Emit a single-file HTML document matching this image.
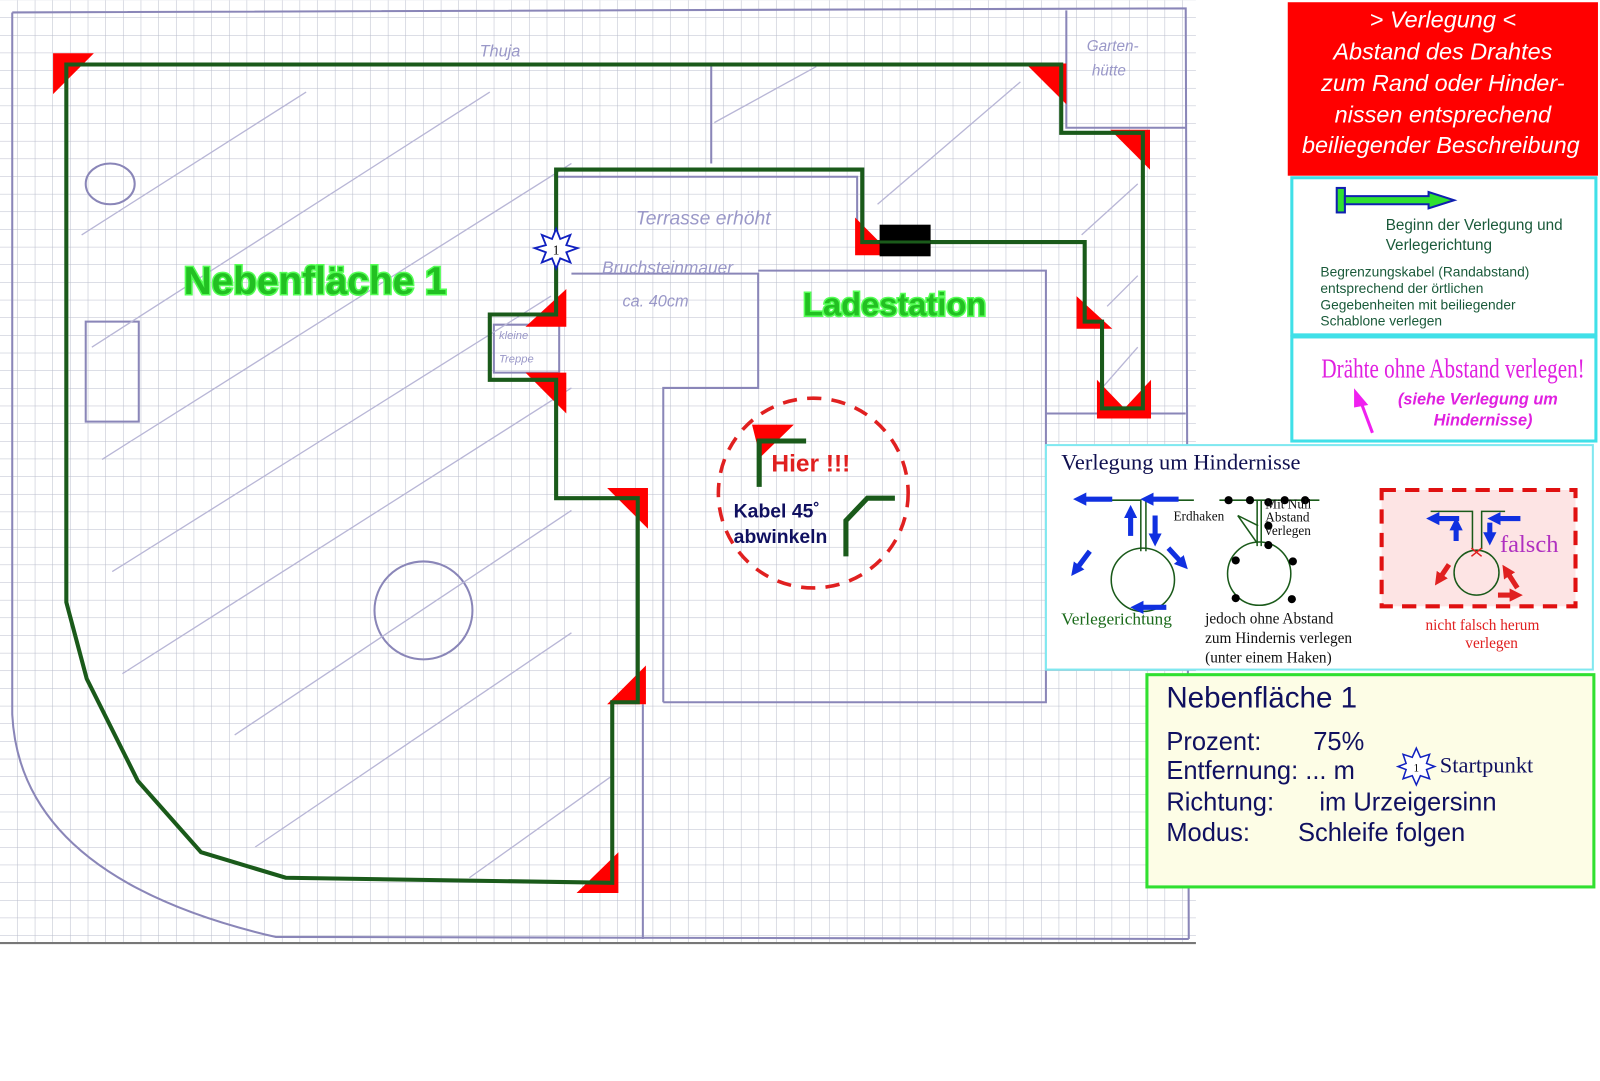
<!DOCTYPE html>
<html><head><meta charset="utf-8"><style>
html,body{margin:0;padding:0;background:#fff;width:1600px;height:1081px;overflow:hidden}
svg{display:block}
text{font-family:"Liberation Sans","DejaVu Sans",sans-serif}
.ser{font-family:"Liberation Serif",serif}
</style></head><body>
<svg width="1600" height="1081" viewBox="0 0 1568 1059" xmlns="http://www.w3.org/2000/svg">
<defs>
<pattern id="g" width="17.3" height="17.3" patternUnits="userSpaceOnUse">
<path d="M17.3 0V17.3H0" fill="none" stroke="#b9bccb" stroke-width="1"/>
</pattern>
<marker id="ab" viewBox="0 0 10 10" refX="2" refY="5" markerWidth="2.6" markerHeight="2.6" orient="auto"><path d="M0 0L10 5L0 10Z" fill="#1030e0"/></marker>
<marker id="ar" viewBox="0 0 10 10" refX="2" refY="5" markerWidth="2.6" markerHeight="2.6" orient="auto"><path d="M0 0L10 5L0 10Z" fill="#e02020"/></marker>
</defs>
<rect x="0" y="0" width="1172" height="925" fill="#fff"/>
<rect x="0" y="0" width="1172" height="925" fill="url(#g)"/>
<line x1="0" y1="924" x2="1172" y2="924" stroke="#777" stroke-width="2"/>
<g fill="none" stroke="#8a86b8" stroke-width="2">
<path d="M12 12 L12 700 Q20 860 270 918 L1165 920"/>
<path d="M12 12 L1162 8 L1165 920"/>
<path d="M1045 10 V125 H1162"/>
<path d="M1025 405 H1162"/>
<path d="M545 173 H840 V238"/>
<path d="M560 268 H743 V380 H650 V688"/>
<path d="M743 265 H1025 V688 H650"/>
<path d="M630 690 V920"/>
<path d="M484 318 H548 V365 H484 Z"/>
<path d="M697 65 V160"/>
<ellipse cx="108" cy="180" rx="24" ry="20"/>
<rect x="84" y="315" width="52" height="98"/>
<circle cx="415" cy="598" r="48"/>
<path d="M1080 320 V400"/>
</g>
<g stroke="#b8b6d6" stroke-width="1.3">
<line x1="80" y1="230" x2="300" y2="90"/><line x1="90" y1="340" x2="480" y2="90"/>
<line x1="100" y1="450" x2="560" y2="160"/><line x1="110" y1="560" x2="540" y2="290"/>
<line x1="120" y1="660" x2="560" y2="380"/><line x1="230" y1="720" x2="560" y2="500"/>
<line x1="250" y1="830" x2="560" y2="620"/><line x1="460" y1="860" x2="600" y2="760"/>
<line x1="700" y1="120" x2="800" y2="65"/><line x1="860" y1="200" x2="1000" y2="80"/>
<line x1="1080" y1="380" x2="1115" y2="340"/><line x1="1085" y1="300" x2="1115" y2="270"/>
<line x1="1060" y1="230" x2="1115" y2="180"/>
</g>
<g fill="#9a98c8" font-style="italic" font-size="16">
<text x="470" y="55">Thuja</text>
<text x="1065" y="50" font-size="15">Garten-</text><text x="1070" y="74" font-size="15">hütte</text>
<text x="623" y="220" font-size="19">Terrasse erhöht</text>
<text x="590" y="268" font-size="17">Bruchsteinmauer</text>
<text x="610" y="300" font-size="16">ca. 40cm</text>
<text x="489" y="332" font-size="11">kleine</text><text x="489" y="355" font-size="11">Treppe</text>
</g>
<g fill="#f00">
<path d="M52 52 H92 L52 92Z"/>
<path d="M1005 62 H1045 V102Z"/>
<path d="M1088 127 H1127 V166Z"/>
<path d="M838 213 V250 H875Z"/>
<path d="M1055 290 V322 H1090Z"/>
<path d="M1075 372 V410 H1128 V372 L1102 400Z"/>
<path d="M555 283 V320 H515Z"/>
<path d="M515 365 H555 V405Z"/>
<path d="M595 478 H635 V518Z"/>
<path d="M595 690 H633 V652Z"/>
<path d="M565 875 H606 V835Z"/>
<path d="M737 416 H778 L745 448Z"/>
</g>
<path d="M65 63 H1040 V130 H1120 V400 H1080 V315 H1063 V237 H845 V166 H545 V308 H480 V372 H545 V488 H625 V688 H600 V865 L280 860 L197 835 L135 765 L85 665 L65 590 Z" fill="none" stroke="#1a5a1a" stroke-width="4"/>
<rect x="862" y="220" width="50" height="31" fill="#000"/>
<line x1="862" y1="237" x2="912" y2="237" stroke="#1a5a1a" stroke-width="3"/>
<polygon points="545,224 549,234 559,230 555,240 566,243 555,247 559,257 549,253 545,263 541,253 531,257 535,247 524,243 535,240 531,230 541,234" fill="#fff" stroke="#1020c0" stroke-width="1.8"/>
<text x="545" y="249" font-size="13" text-anchor="middle" class="ser">1</text>
<text x="180" y="288" font-size="38" font-weight="bold" fill="#22c022" stroke="#55ff55" stroke-width="3" paint-order="stroke">Nebenfläche 1</text>
<text x="787" y="309" font-size="32" font-weight="bold" fill="#22c022" stroke="#55ff55" stroke-width="3" paint-order="stroke">Ladestation</text>
<circle cx="797" cy="483" r="93" fill="none" stroke="#e02020" stroke-width="3.5" stroke-dasharray="14,10"/>
<path d="M744 477 V432 H790" fill="none" stroke="#1a5a1a" stroke-width="5"/>
<path d="M829 545 V510 L850 488 H877" fill="none" stroke="#1a5a1a" stroke-width="5"/>
<text x="756" y="462" font-size="24" font-weight="bold" fill="#e02020">Hier !!!</text>
<text x="719" y="507" font-size="19" font-weight="bold" fill="#101060">Kabel 45˚</text>
<text x="719" y="532" font-size="19" font-weight="bold" fill="#101060">abwinkeln</text>
<rect x="1262" y="2" width="304" height="170" fill="#f00"/>
<g fill="#fff" font-size="23" font-style="italic" text-anchor="middle">
<text x="1414" y="27">&gt; Verlegung &lt;</text>
<text x="1414" y="58">Abstand des Drahtes</text>
<text x="1414" y="89">zum Rand oder Hinder-</text>
<text x="1414" y="120">nissen entsprechend</text>
<text x="1412" y="150">beiliegender Beschreibung</text>
</g>
<rect x="1266" y="174" width="298" height="154" fill="#fff" stroke="#40e0e8" stroke-width="3"/>
<rect x="1310" y="184" width="8" height="24" fill="#30e030" stroke="#1020b0" stroke-width="2"/>
<path d="M1318 192 H1400 V188 L1425 196 L1400 204 V200 H1318Z" fill="#30e030" stroke="#1020b0" stroke-width="2"/>
<g fill="#1a5a3a" font-size="15">
<text x="1358" y="225">Beginn der Verlegung und</text>
<text x="1358" y="245">Verlegerichtung</text>
<text x="1294" y="271" font-size="13.5">Begrenzungskabel (Randabstand)</text>
<text x="1294" y="287" font-size="13.5">entsprechend der örtlichen</text>
<text x="1294" y="303" font-size="13.5">Gegebenheiten mit beiliegender</text>
<text x="1294" y="319" font-size="13.5">Schablone verlegen</text>
</g>
<rect x="1266" y="330" width="298" height="102" fill="#fff" stroke="#40e0e8" stroke-width="3"/>
<text x="1295" y="370" font-size="27" fill="#e020e0" class="ser" textLength="258" lengthAdjust="spacingAndGlyphs">Drähte ohne Abstand verlegen!</text>
<text x="1370" y="396" font-size="16" font-style="italic" font-weight="bold" fill="#e020e0">(siehe Verlegung um</text>
<text x="1405" y="417" font-size="16" font-style="italic" font-weight="bold" fill="#e020e0">Hindernisse)</text>
<path d="M1345 424 L1333 392" stroke="#f020f0" stroke-width="3"/><path d="M1328 383 L1339 396 L1328 398Z" fill="#f020f0" stroke="#f020f0" stroke-width="2"/>
<rect x="1025" y="436" width="536" height="220" fill="#fff" stroke="#80e8f0" stroke-width="2"/>
<text x="1040" y="460" font-size="22" class="ser" fill="#101050">Verlegung um Hindernisse</text>
<g fill="none" stroke="#1a5a1a" stroke-width="1.5">
<path d="M1070 490 H1118 V540 M1123 540 V490 H1170"/>
<circle cx="1120" cy="568" r="31"/>
<path d="M1195 490 H1293 M1232 490 V535 M1236 490 V535"/>
<circle cx="1234" cy="562" r="31"/>
<path d="M1213 505 L1233 515 M1213 505 L1232 532"/>
</g>
<g fill="#000"><circle cx="1204" cy="490" r="4"/><circle cx="1225" cy="490" r="4"/><circle cx="1243" cy="492" r="4"/><circle cx="1259" cy="490" r="4"/><circle cx="1279" cy="490" r="4"/><circle cx="1243" cy="515" r="4"/><circle cx="1243" cy="534" r="4"/><circle cx="1211" cy="549" r="4"/><circle cx="1267" cy="550" r="4"/><circle cx="1211" cy="586" r="4"/><circle cx="1266" cy="587" r="4"/></g>
<g stroke="#1030e0" stroke-width="5" fill="none">
<path d="M1090 489 H1062" marker-end="url(#ab)"/><path d="M1155 489 H1128" marker-end="url(#ab)"/>
<path d="M1108 525 V505" marker-end="url(#ab)"/><path d="M1132 505 V525" marker-end="url(#ab)"/>
<path d="M1068 540 L1056 556" marker-end="url(#ab)"/><path d="M1145 537 L1157 550" marker-end="url(#ab)"/>
<path d="M1143 595 H1118" marker-end="url(#ab)"/>
</g>
<rect x="1354" y="480" width="190" height="114" fill="#fde4e4" stroke="#e01010" stroke-width="4" stroke-dasharray="14,9"/>
<g fill="none" stroke="#1a5a1a" stroke-width="1.5"><path d="M1402 501 H1443 V538 M1452 538 V501 H1475"/><circle cx="1447" cy="561" r="22"/></g>
<path d="M1442 537 L1452 545 M1452 537 L1442 545" stroke="#e02020" stroke-width="1.5"/>
<g stroke="#1030e0" stroke-width="5"><path d="M1430 508 H1408" marker-end="url(#ab)"/><path d="M1490 508 H1468" marker-end="url(#ab)"/><path d="M1427 530 V517" marker-end="url(#ab)"/><path d="M1460 512 V524" marker-end="url(#ab)"/></g>
<g stroke="#e02020" stroke-width="5"><path d="M1420 553 L1412 565" marker-end="url(#ar)"/><path d="M1468 583 H1482" marker-end="url(#ar)"/><path d="M1487 576 L1478 562" marker-end="url(#ar)"/></g>
<text x="1470" y="541" font-size="24" class="ser" fill="#b030c0">falsch</text>
<text x="1040" y="612" font-size="17" class="ser" fill="#1a6a1a">Verlegerichtung</text>
<g class="ser" font-size="15" fill="#101010">
<text x="1181" y="611" class="ser">jedoch ohne Abstand</text>
<text x="1181" y="630" class="ser">zum Hindernis verlegen</text>
<text x="1181" y="649" class="ser">(unter einem Haken)</text>
<text x="1150" y="510" font-size="13" class="ser">Erdhaken</text>
<text x="1240" y="498" font-size="13" class="ser">Mit Null</text>
<text x="1240" y="511" font-size="13" class="ser">Abstand</text>
<text x="1240" y="524" font-size="13" class="ser">verlegen</text>
</g>
<text x="1397" y="617" font-size="15" class="ser" fill="#e02020">nicht falsch herum</text>
<text x="1436" y="635" font-size="15" class="ser" fill="#e02020">verlegen</text>
<rect x="1124" y="661" width="438" height="208" fill="#fdfde6" stroke="#30e030" stroke-width="3"/>
<g fill="#101060" font-size="25">
<text x="1143" y="693" font-size="29">Nebenfläche 1</text>
<text x="1143" y="735">Prozent:</text><text x="1287" y="735">75%</text>
<text x="1143" y="763">Entfernung: ... m</text>
<text x="1143" y="794">Richtung:</text><text x="1293" y="794">im Urzeigersinn</text>
<text x="1143" y="824">Modus:</text><text x="1272" y="824">Schleife folgen</text>
</g>
<polygon points="1388,733 1392,742 1401,739 1398,748 1406,751 1398,754 1401,763 1392,760 1388,769 1384,760 1375,763 1378,754 1370,751 1378,748 1375,739 1384,742" fill="#fff" stroke="#1020c0" stroke-width="1.5"/>
<text x="1388" y="756" font-size="11" text-anchor="middle" class="ser">1</text>
<text x="1411" y="757" font-size="22" class="ser" fill="#101060">Startpunkt</text>
</svg>
</body></html>
